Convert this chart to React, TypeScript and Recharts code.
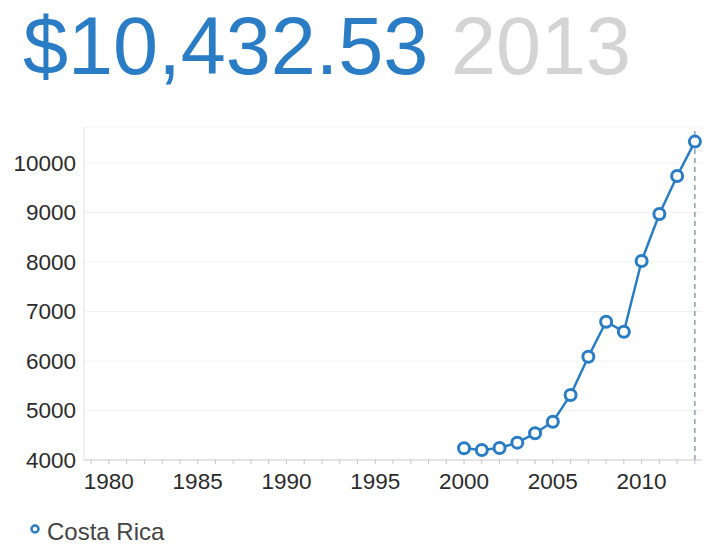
import { LineChart, Line, XAxis, YAxis, CartesianGrid, ReferenceLine, Legend } from "recharts"

// ─── Data ──────────────────────────────────────────────────────────────────────

const years = [2000, 2001, 2002, 2003, 2004, 2005, 2006, 2007, 2008, 2009, 2010, 2011, 2012, 2013]
const gdpPerCapita = [4236, 4202, 4242, 4350, 4539, 4774, 5313, 6087, 6794, 6592, 8020, 8970, 9737, 10432.53]

const yearLabels = [1980, 1985, 1990, 1995, 2000, 2005, 2010]
const yearTicks = Array.from({ length: 35 }, (_, i) => 1979 + i)
const valueTicks = [4000, 5000, 6000, 7000, 8000, 9000, 10000]

const seriesName = "Costa Rica"
const headlineValue = "$10,432.53"
const headlineYear = "2013"

const data = years.map((year, i) => ({ year, value: gdpPerCapita[i] }))

// ─── Styles ────────────────────────────────────────────────────────────────────

const blue = "#2a7cc4"
const font = "'Liberation Sans', Arial, sans-serif"
const tickStyle = { fill: "#2b2b2b", fontSize: 22.5, fontFamily: font }

function LegendContent() {
  return (
    <div style={{ display: "flex", alignItems: "center", height: 28, fontFamily: font }}>
      <svg width={14} height={28} style={{ marginRight: 5 }}>
        <circle cx={7} cy={11} r={3.5} fill="#fff" stroke={blue} strokeWidth={2.5} />
      </svg>
      <span style={{ fontSize: 24, color: "#444", lineHeight: "28px" }}>{seriesName}</span>
    </div>
  )
}

export default function App() {
  return (
    <div style={{ position: "absolute", left: 0, top: 0, width: 710, height: 548, background: "#fff" }}>
      <div
        style={{
          position: "absolute",
          left: 23,
          top: 6,
          fontFamily: font,
          fontSize: 81,
          lineHeight: 1,
          whiteSpace: "nowrap",
        }}
      >
        <span style={{ color: blue }}>{headlineValue}</span>{" "}
        <span style={{ color: "#d4d4d4" }}>{headlineYear}</span>
      </div>

      <div style={{ position: "absolute", left: 0, top: 110 }}>
        <LineChart width={710} height={438} data={data} margin={{ top: 17, right: 8, left: 4, bottom: 26 }}>
          <CartesianGrid vertical={false} stroke="#f1f1f1" />
          <XAxis
            type="number"
            dataKey="year"
            domain={[1978.6, 2013.4]}
            allowDataOverflow
            ticks={yearTicks}
            interval={0}
            tickFormatter={(y: number) => (yearLabels.includes(y) ? String(y) : "")}
            tick={tickStyle}
            height={34}
            tickSize={4}
            tickMargin={9}
            axisLine={{ stroke: "#cfcfcf" }}
            tickLine={{ stroke: "#c4c4c4" }}
          />
          <YAxis
            type="number"
            domain={[4000, 10727]}
            allowDataOverflow
            ticks={valueTicks}
            interval={0}
            width={80}
            tick={tickStyle}
            tickSize={6}
            tickMargin={2}
            tickLine={false}
            axisLine={{ stroke: "#e0e0e0" }}
          />
          <ReferenceLine x={2013} stroke="#3f7299" strokeDasharray="5 4" strokeWidth={1} />
          <Legend
            verticalAlign="bottom"
            align="left"
            content={<LegendContent />}
            wrapperStyle={{ left: 28, bottom: 2, height: 28 }}
          />
          <Line
            type="linear"
            dataKey="value"
            name={seriesName}
            stroke={blue}
            strokeWidth={2.5}
            dot={{ r: 5.5, fill: "#fff", stroke: blue, strokeWidth: 3 }}
            activeDot={false}
            isAnimationActive={false}
          />
        </LineChart>
      </div>
    </div>
  )
}
